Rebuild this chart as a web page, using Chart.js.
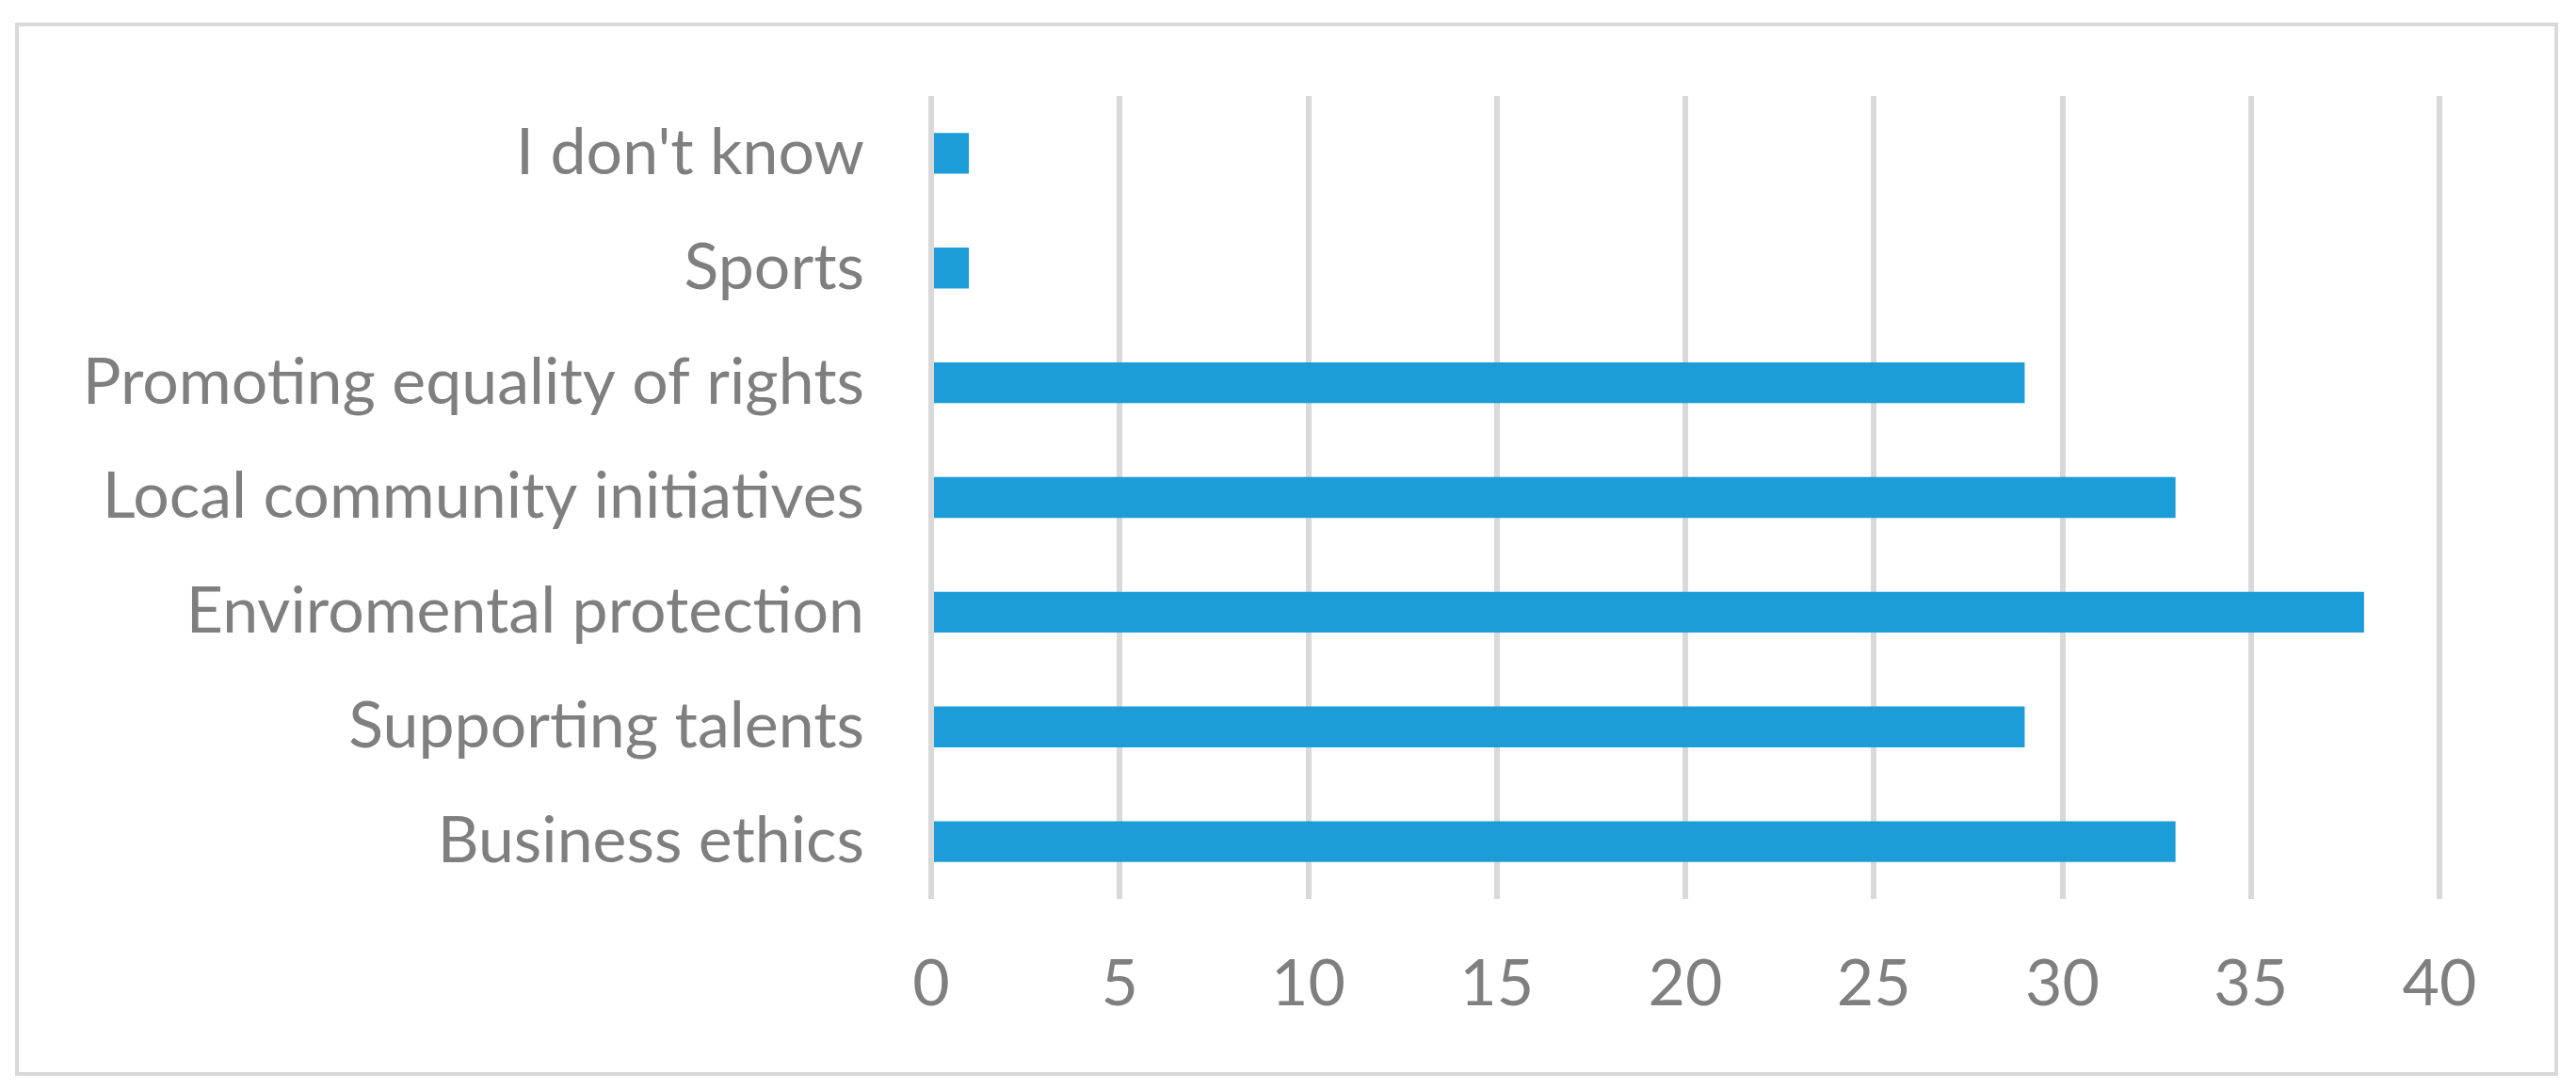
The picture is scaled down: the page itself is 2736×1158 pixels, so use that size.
<!doctype html>
<html lang="en">
  <head>
    <meta charset="utf-8">
    <title>Areas of social responsibility</title>
    <style>
      * {
        margin: 0;
        padding: 0;
      }
      body {
        background: white;
        width: 2736px;
        height: 1158px;
        overflow: hidden;
      }
      .frame {
        position: absolute;
        left: 16px;
        top: 24px;
        width: 2693px;
        height: 1111px;
        border: solid 4px #d9d9d9;
      }
      .chartBox {
        position: absolute;
        left: 0;
        top: 0;
        width: 2736px;
        height: 1158px;
      }
    </style>
  </head>
  <body>
    <div class="frame"></div>
    <div class="chartBox">
      <canvas id="myChart"></canvas>
    </div>
    <script src="https://cdn.jsdelivr.net/npm/chart.js"></script>
    <script>
    // setup (Excel order: first category sits at the bottom)
    const categories = [
      'Business ethics',
      'Supporting talents',
      'Enviromental protection',
      'Local community initiatives',
      'Promoting equality of rights',
      'Sports',
      "I don't know"
    ];
    const counts = [33, 29, 38, 33, 29, 1, 1];
    const xTicks = [0, 5, 10, 15, 20, 25, 30, 35, 40];

    const grey = '#7f7f7f';
    const labelFont = { family: 'Lato, "Open Sans", sans-serif', size: 68 };

    const data = {
      labels: categories,
      datasets: [{
        data: counts,
        backgroundColor: '#1d9dd8',
        borderWidth: 0,
        categoryPercentage: 1,
        barPercentage: 0.356
      }]
    };

    // config
    const config = {
      type: 'bar',
      data,
      options: {
        indexAxis: 'y',
        responsive: false,
        animation: false,
        devicePixelRatio: 1,
        layout: {
          padding: { top: 102, right: 145, left: 0, bottom: 0 }
        },
        plugins: {
          legend: { display: false },
          tooltip: { enabled: false }
        },
        scales: {
          x: {
            min: xTicks[0],
            max: xTicks[xTicks.length - 1],
            afterBuildTicks: (scale) => {
              scale.ticks = xTicks.map(v => ({ value: v }));
            },
            afterFit: (scale) => { scale.height = 203; },
            grid: {
              color: '#d9d9d9',
              lineWidth: 6,
              drawTicks: false
            },
            border: { display: false },
            ticks: {
              color: grey,
              font: labelFont,
              padding: 50,
              maxRotation: 0
            }
          },
          y: {
            reverse: true,
            afterFit: (scale) => {
              scale.width = 989;
              // keep label padding from pushing the plot area down
              scale.paddingTop = 0;
              scale.paddingBottom = 0;
            },
            grid: { display: false, drawTicks: false },
            border: { display: false },
            ticks: {
              color: grey,
              font: labelFont,
              padding: 71
            }
          }
        }
      }
    };

    const ctx = document.getElementById('myChart');
    ctx.width = 2736;
    ctx.height = 1158;
    const myChart = new Chart(ctx, config);
    </script>
  </body>
</html>
